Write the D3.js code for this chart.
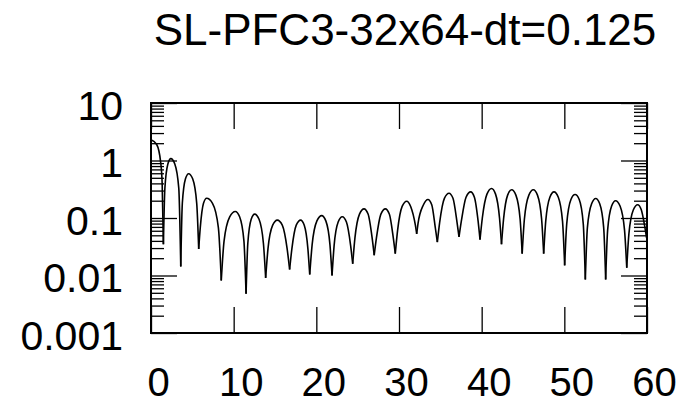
<!DOCTYPE html>
<html lang="en">
    <head>
        <meta charset="utf-8">
        <title>SL-PFC3-32x64-dt=0.125</title>
        <script type="text/javascript" src="https://d3js.org/d3.v7.min.js"></script>
        <style>
            body { margin: 0; background: #fff; }
            text { font-family: "Liberation Sans", Arial, sans-serif; fill: #000; }
            .axes line { stroke: #000; stroke-width: 1.3; }
            #trace path { fill: none; stroke: #000; stroke-width: 1.6; }
        </style>
    </head>
    <body>
        <svg id="chart"></svg>
    </body>
    <script>
        let title = "SL-PFC3-32x64-dt=0.125";

        // tick labels
        let xTicks = [0, 10, 20, 30, 40, 50, 60];
        let yTicks = [0.001, 0.01, 0.1, 1, 10];
        let yTickLabels = ["0.001", "0.01", "0.1", "1", "10"];

        // curve: [t, |value|]
        let curve = [
            [0, 2.3], [0.69, 1.9], [1.17, 0.93], [1.35, 0.4], [1.5, 0.035],
            [1.68, 0.33], [2.04, 0.87], [2.4, 1.08], [2.88, 0.87], [3.36, 0.33], [3.6, 0.0144],
            [3.79, 0.18], [4.17, 0.48], [4.55, 0.59], [5.04, 0.48], [5.53, 0.18], [5.77, 0.029],
            [5.96, 0.068], [6.35, 0.18], [6.73, 0.22], [7.44, 0.18], [8.15, 0.068], [8.5, 0.0082],
            [8.84, 0.04], [9.52, 0.105], [10.2, 0.13], [10.72, 0.105], [11.24, 0.04], [11.5, 0.0048],
            [11.71, 0.036], [12.12, 0.095], [12.54, 0.117], [13.07, 0.095], [13.6, 0.036], [13.87, 0.0091],
            [14.15, 0.029], [14.72, 0.075], [15.28, 0.092], [15.88, 0.075], [16.47, 0.029], [16.77, 0.0127],
            [17.04, 0.029], [17.57, 0.075], [18.1, 0.092], [18.54, 0.075], [18.98, 0.029], [19.2, 0.0104],
            [19.49, 0.034], [20.07, 0.089], [20.65, 0.11], [21.15, 0.089], [21.65, 0.034], [21.9, 0.01],
            [22.15, 0.033], [22.64, 0.085], [23.14, 0.105], [23.64, 0.085], [24.15, 0.033], [24.4, 0.016],
            [24.67, 0.045], [25.22, 0.117], [25.77, 0.144], [26.26, 0.117], [26.75, 0.045], [27.0, 0.0225],
            [27.27, 0.045], [27.81, 0.117], [28.35, 0.144], [28.83, 0.117], [29.31, 0.045], [29.55, 0.024],
            [29.83, 0.061], [30.38, 0.159], [30.93, 0.196], [31.41, 0.159], [31.98, 0.075], [32.14, 0.053],
            [32.3, 0.08], [32.96, 0.17], [33.5, 0.21], [33.96, 0.17], [34.41, 0.065], [34.64, 0.038],
            [34.92, 0.084], [35.49, 0.22], [36.05, 0.27], [36.53, 0.22], [37.02, 0.084], [37.26, 0.047],
            [37.54, 0.088], [38.11, 0.23], [38.67, 0.285], [39.12, 0.23], [39.57, 0.088], [39.8, 0.042],
            [40.08, 0.1], [40.64, 0.26], [41.2, 0.326], [41.68, 0.26], [42.16, 0.1], [42.4, 0.035],
            [42.65, 0.096], [43.14, 0.25], [43.63, 0.31], [44.14, 0.25], [44.65, 0.096], [44.9, 0.024],
            [45.17, 0.096], [45.71, 0.25], [46.25, 0.31], [46.75, 0.25], [47.25, 0.096], [47.5, 0.024],
            [47.75, 0.088], [48.25, 0.23], [48.75, 0.285], [49.27, 0.23], [49.78, 0.088], [50.04, 0.015],
            [50.29, 0.079], [50.8, 0.21], [51.3, 0.256], [51.8, 0.21], [52.29, 0.079], [52.54, 0.0085],
            [52.79, 0.068], [53.3, 0.177], [53.8, 0.218], [54.28, 0.177], [54.76, 0.068], [55.0, 0.0085],
            [55.24, 0.062], [55.72, 0.162], [56.2, 0.2], [56.74, 0.162], [57.28, 0.062], [57.55, 0.0136],
            [57.81, 0.053], [58.34, 0.138], [58.87, 0.17], [59.3, 0.14], [59.7, 0.075], [59.95, 0.045]
        ];

        let width = 694, height = 405;
        let margin = {left: 151, right: 47, top: 103, bottom: 72};
        let plotW = width - margin.left - margin.right;
        let plotH = height - margin.top - margin.bottom;

        let svg = d3.select("#chart")
            .attr("width", width)
            .attr("height", height);

        let xScale = d3.scaleLinear()
            .domain([0, 60])
            .range([margin.left, margin.left + plotW]);
        let yScale = d3.scaleLog()
            .domain([0.001, 10])
            .range([margin.top + plotH, margin.top]);

        // minor ticks 2..9 in every decade
        let yMinor = [];
        yTicks.slice(0, -1).forEach(d => {
            for (let k = 2; k < 10; k++) yMinor.push(d * k);
        });

        let axes = svg.append("g").attr("class", "axes");
        let major = 26, minor = 13;

        // bottom, with labels
        let bottom = axes.append("g")
            .attr("transform", "translate(0," + (margin.top + plotH) + ")")
            .call(d3.axisBottom(xScale).tickValues(xTicks).tickSizeInner(-major).tickSizeOuter(0));
        bottom.selectAll("text")
            .attr("y", 63).attr("dy", 0).attr("dx", 7)
            .style("font-size", "40px");

        // top, ticks only
        axes.append("g")
            .attr("transform", "translate(0," + margin.top + ")")
            .call(d3.axisTop(xScale).tickValues(xTicks).tickSizeInner(-major).tickSizeOuter(0).tickFormat(""));

        // left, with labels
        let left = axes.append("g")
            .attr("transform", "translate(" + margin.left + ",0)")
            .call(d3.axisLeft(yScale).tickValues(yTicks).tickSizeInner(-major).tickSizeOuter(0)
                .tickFormat((d, i) => yTickLabels[i]));
        left.selectAll("text")
            .attr("x", -28).attr("dy", "0.4em")
            .style("font-size", "41px");
        axes.append("g")
            .attr("transform", "translate(" + margin.left + ",0)")
            .call(d3.axisLeft(yScale).tickValues(yMinor).tickSizeInner(-minor).tickSizeOuter(0).tickFormat(""));

        // right, ticks only
        axes.append("g")
            .attr("transform", "translate(" + (margin.left + plotW) + ",0)")
            .call(d3.axisRight(yScale).tickValues(yTicks).tickSizeInner(-major).tickSizeOuter(0).tickFormat(""));
        axes.append("g")
            .attr("transform", "translate(" + (margin.left + plotW) + ",0)")
            .call(d3.axisRight(yScale).tickValues(yMinor).tickSizeInner(-minor).tickSizeOuter(0).tickFormat(""));

        axes.selectAll(".domain").remove();
        axes.selectAll("text").attr("font-family", null);

        // frame
        svg.append("rect")
            .attr("x", margin.left).attr("y", margin.top)
            .attr("width", plotW).attr("height", plotH)
            .attr("fill", "none").attr("stroke", "#000").attr("stroke-width", 2);

        // split the trace at its cusps so they stay sharp
        let segments = [];
        let start = 0;
        for (let i = 1; i < curve.length - 1; i++) {
            if (curve[i][1] < curve[i - 1][1] && curve[i][1] < curve[i + 1][1]) {
                segments.push(curve.slice(start, i + 1));
                start = i;
            }
        }
        segments.push(curve.slice(start));

        let valueline = d3.line()
            .x(d => xScale(d[0]))
            .y(d => yScale(d[1]))
            .curve(d3.curveMonotoneX);

        svg.append("g")
            .attr("id", "trace")
            .selectAll("path")
            .data(segments)
            .join("path")
            .attr("d", valueline);

        // title
        svg.append("text")
            .attr("x", 405).attr("y", 45)
            .attr("text-anchor", "middle")
            .style("font-size", "44px")
            .text(title);
    </script>
</html>
